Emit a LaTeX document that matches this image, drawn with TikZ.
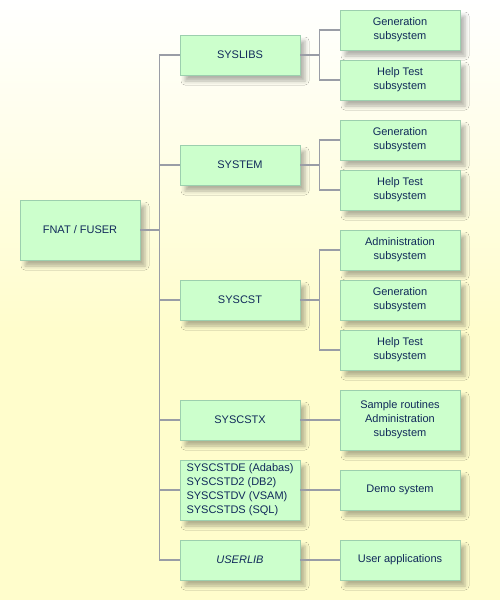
\documentclass[tikz,border=0pt]{standalone}
\usepackage{fontspec}
\setmainfont{Liberation Sans}
\usetikzlibrary{shadows.blur}
\definecolor{boxfill}{HTML}{CCFFCC}
\definecolor{boxline}{HTML}{9CCFAE}
\definecolor{boxtext}{HTML}{10295A}
\definecolor{linkgray}{HTML}{9A9DA6}
\definecolor{bgyellow}{HTML}{FFFDCC}
\tikzset{
sysbox/.style={draw=boxline,fill=boxfill,text=boxtext,minimum width=120pt,minimum height=40pt,inner sep=2pt,align=center,font=\fontsize{11}{14}\selectfont,
 blur shadow={shadow xshift=5pt,shadow yshift=-6pt,shadow blur radius=4pt,shadow opacity=30}},
link/.style={draw=linkgray,line width=1.3pt}
}
\begin{document}
\begin{tikzpicture}[x=1pt,y=-1pt]
\useasboundingbox (0,0) rectangle (500,600);
\shade[top color=white,bottom color=bgyellow] (0,0) rectangle (500,330);
\fill[bgyellow] (0,330) rectangle (500,600);
\node[sysbox,minimum height=60pt](fnat) at (80,230){FNAT / FUSER};
\foreach \nm/\yy/\lb in {syslibs/55/SYSLIBS,system/165/SYSTEM,syscst/300/SYSCST,syscstx/420/SYSCSTX}{\node[sysbox](\nm) at (240,\yy){\lb};}
\node[sysbox,minimum height=60pt,align=left](syscstd) at (240,490){SYSCSTDE (Adabas)\\SYSCSTD2 (DB2)\\SYSCSTDV (VSAM)\\SYSCSTDS (SQL)};
\node[sysbox](userlib) at (240,560){\textit{USERLIB}};
\foreach \nm/\yy/\lb in {gena/30/{Generation\\subsystem},helpa/80/{Help Test\\subsystem},genb/140/{Generation\\subsystem},helpb/190/{Help Test\\subsystem},admc/250/{Administration\\subsystem},genc/300/{Generation\\subsystem},helpc/350/{Help Test\\subsystem},demo/490/{Demo system},userapp/560/{User applications}}{\node[sysbox](\nm) at (400,\yy){\lb};}
\node[sysbox,minimum height=60pt](sample) at (400,420){Sample routines\\Administration\\subsystem};
% connectors
\draw[link](fnat.east)--++(20,0);
\draw[link](syslibs.west)--++(-20,0)|-(userlib.west);
\foreach \nm in {system,syscst,syscstx,syscstd}{\draw[link](\nm.west)--++(-20,0);}
\foreach \pa/\ch/\cz in {syslibs/gena/helpa,system/genb/helpb,syscst/admc/helpc}{\draw[link](\pa.east)--++(20,0);\draw[link](\ch.west)--++(-20,0)|-(\cz.west);}
\draw[link](syscstx.east)--(sample.west);
\draw[link](syscstd.east)--(demo.west);
\draw[link](userlib.east)--(userapp.west);
\end{tikzpicture}
\end{document}
